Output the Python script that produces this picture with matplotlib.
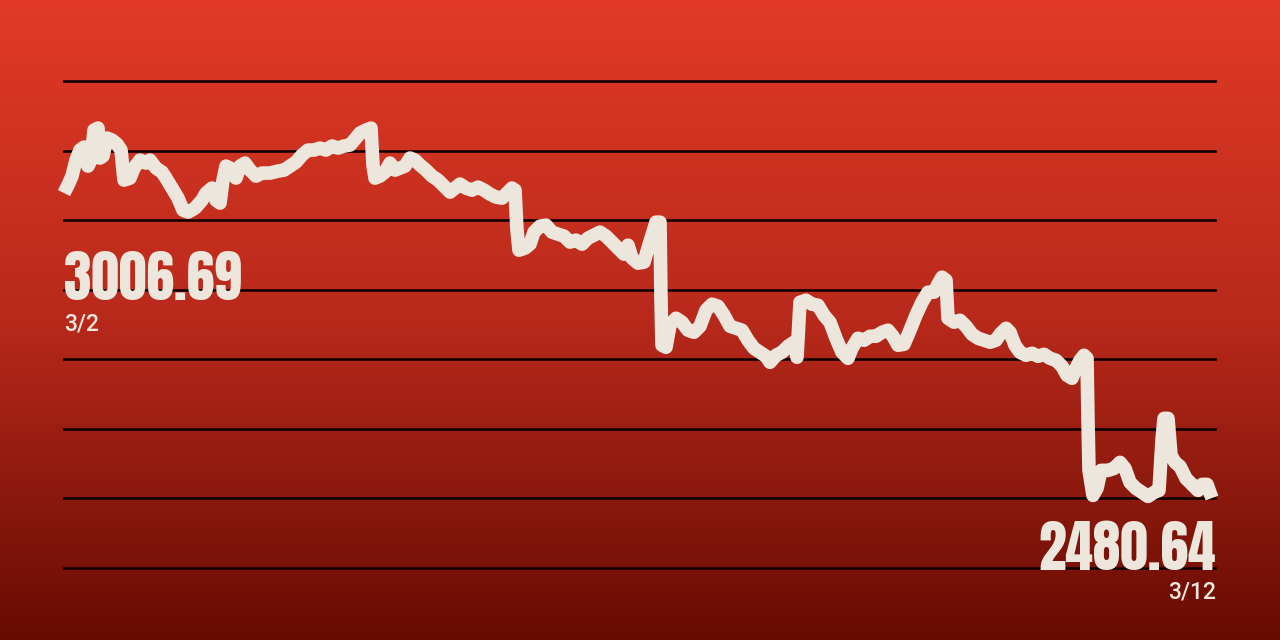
import numpy as np
import matplotlib
matplotlib.use("Agg")
import matplotlib.pyplot as plt
from matplotlib import font_manager as fm
from matplotlib.colors import LinearSegmentedColormap

# ---- data (position within the 3/2 - 3/12 period, index value) ----
pos = [0, 4, 8, 12, 16, 20, 24, 27, 30, 34, 36, 39, 43, 48, 53, 57, 60, 66, 70, 76,
       82, 86, 92, 98, 102, 108, 114, 119, 124, 131, 138, 142, 148, 152, 156, 159, 162, 166, 169, 172,
       176, 181, 186, 192, 198, 206, 214, 220, 226, 232, 238, 244, 250, 256, 262, 268, 274, 280, 286, 292,
       296, 302, 307, 309, 311, 316, 321, 326, 331, 336, 341, 346, 351, 356, 362, 368, 374, 380, 386, 391,
       396, 402, 408, 414, 420, 426, 432, 438, 443, 448, 451, 453, 455, 461, 466, 470, 476, 482, 488, 494,
       500, 506, 512, 518, 524, 530, 536, 542, 548, 554, 560, 564, 568, 574, 580, 584, 588, 592, 596, 597,
       598, 602, 606, 612, 618, 624, 630, 636, 642, 648, 654, 660, 666, 672, 678, 684, 690, 696, 702, 706,
       712, 718, 724, 730, 733, 736, 742, 748, 754, 760, 766, 772, 778, 784, 788, 794, 800, 806, 812, 818,
       824, 829, 834, 840, 846, 852, 858, 864, 870, 874, 878, 882, 884, 890, 896, 902, 908, 914, 920, 926,
       932, 936, 942, 946, 951, 956, 962, 968, 974, 980, 986, 992, 998, 1003, 1008, 1012, 1016, 1020, 1023, 1024,
       1025, 1029, 1033, 1037, 1044, 1050, 1056, 1061, 1066, 1072, 1078, 1084, 1090, 1095, 1098, 1100, 1104, 1107, 1111, 1116,
       1122, 1128, 1134, 1138, 1143, 1148]

index_value = [3006.69, 3020.4, 3036.0, 3063.6, 3080.9, 3086.0, 3053.2, 3063.6, 3115.4, 3118.8,
               3067.1, 3070.5, 3101.6, 3098.1, 3091.2, 3080.9, 3029.1, 3032.5, 3049.8, 3063.6,
               3058.4, 3063.6, 3049.8, 3042.9, 3032.5, 3015.3, 2998.0, 2977.3, 2973.8, 2980.7,
               2994.5, 3006.6, 3015.3, 2994.5, 2989.4, 3029.1, 3053.2, 3049.8, 3042.9, 3032.5,
               3053.2, 3058.4, 3046.3, 3036.0, 3041.2, 3041.2, 3044.6, 3046.3, 3053.2, 3060.1,
               3072.2, 3080.9, 3080.9, 3084.3, 3080.9, 3087.8, 3084.3, 3087.8, 3089.5, 3101.6,
               3110.2, 3115.4, 3118.8, 3055.0, 3032.5, 3036.0, 3042.9, 3058.4, 3046.3, 3049.8,
               3053.2, 3067.1, 3063.6, 3055.0, 3046.3, 3036.0, 3029.1, 3018.7, 3008.3, 3015.3,
               3022.2, 3015.3, 3011.8, 3017.0, 3011.8, 3004.9, 2999.7, 2998.0, 3006.6, 3015.3,
               3011.8, 2942.7, 2908.2, 2911.7, 2918.6, 2939.3, 2949.6, 2951.4, 2939.3, 2935.8,
               2932.4, 2922.0, 2925.5, 2918.6, 2928.9, 2934.1, 2939.3, 2932.4, 2922.0, 2911.7,
               2901.3, 2916.8, 2894.4, 2885.8, 2887.5, 2911.7, 2934.1, 2956.5, 2956.5, 2821.9,
               2744.2, 2740.7, 2778.7, 2790.8, 2783.9, 2770.1, 2766.6, 2777.0, 2804.6, 2815.0,
               2811.5, 2796.0, 2777.0, 2773.5, 2770.1, 2752.8, 2739.0, 2732.1, 2725.2, 2714.8,
               2726.9, 2732.1, 2742.5, 2749.4, 2723.5, 2818.4, 2821.9, 2815.0, 2813.2, 2796.0,
               2783.9, 2756.3, 2732.1, 2721.7, 2739.0, 2756.3, 2752.8, 2759.7, 2759.7, 2766.6,
               2770.1, 2759.7, 2744.2, 2745.9, 2770.1, 2796.0, 2818.4, 2835.7, 2835.7, 2849.5,
               2861.6, 2856.4, 2790.8, 2783.9, 2787.3, 2777.0, 2763.2, 2756.3, 2752.8, 2749.4,
               2752.8, 2763.2, 2773.5, 2766.6, 2744.2, 2732.1, 2726.9, 2730.4, 2725.2, 2728.6,
               2721.7, 2718.3, 2707.9, 2692.4, 2687.2, 2704.5, 2718.3, 2726.9, 2721.7, 2614.7,
               2528.4, 2485.2, 2497.3, 2528.4, 2528.4, 2531.8, 2542.2, 2531.8, 2507.6, 2497.3,
               2490.4, 2483.5, 2490.4, 2493.8, 2580.2, 2618.1, 2618.1, 2554.3, 2542.2, 2535.3,
               2514.5, 2504.2, 2493.8, 2504.2, 2504.2, 2480.64]

grid_levels = [2360, 2480, 2600, 2720, 2840, 2960, 3080, 3200]
start_label, start_date = "3006.69", "3/2"
end_label, end_date = "2480.64", "3/12"

# ---- styling ----
cream = "#ece6dc"
top_col = "#e23a26"
bot_col = "#670b02"

names = {f.name for f in fm.fontManager.ttflist}
def pick(options, default="DejaVu Sans"):
    for o in options:
        if o in names:
            return o
    return default

big_family = pick(["Anton", "Oswald", "Fjalla One", "Liberation Sans Narrow"])
small_family = pick(["Roboto", "Liberation Sans"])

fig = plt.figure(figsize=(12.8, 6.4), dpi=100)

# background gradient
bg = fig.add_axes([0, 0, 1, 1], zorder=0)
cmap = LinearSegmentedColormap.from_list("bg", [top_col, "#b8291b", bot_col])
grad = np.linspace(0, 1, 256).reshape(-1, 1)
bg.imshow(grad, aspect="auto", cmap=cmap, extent=[0, 1, 0, 1], origin="upper")
bg.set_axis_off()

ax = fig.add_axes([64 / 1280, 1 - 568 / 640, (1215 - 64) / 1280, (568 - 81) / 640], zorder=1)
ax.set_facecolor("none")
ax.set_xlim(0, 1151)
ax.set_ylim(grid_levels[0], grid_levels[-1])
for g in grid_levels:
    ax.axhline(g, color="#120000", lw=1.9, clip_on=False, zorder=1)
ax.plot(pos, index_value, color=cream, lw=9.8, solid_joinstyle="round",
        solid_capstyle="butt", zorder=3, clip_on=False)
ax.set_axis_off()

fig.text(64 / 1280, 1 - 300 / 640, start_label, color=cream, fontsize=40,
         family=big_family, ha="left", va="baseline", zorder=5)
fig.text(64 / 1280, 1 - 331 / 640, start_date, color=cream, fontsize=16.5,
         fontweight="medium", family=small_family, ha="left", va="baseline", zorder=5)
fig.text(1216 / 1280, 1 - 570 / 640, end_label, color=cream, fontsize=40,
         family=big_family, ha="right", va="baseline", zorder=5)
fig.text(1216 / 1280, 1 - 599 / 640, end_date, color=cream, fontsize=16.5,
         fontweight="medium", family=small_family, ha="right", va="baseline", zorder=5)

fig.savefig("out.png", dpi=100)
